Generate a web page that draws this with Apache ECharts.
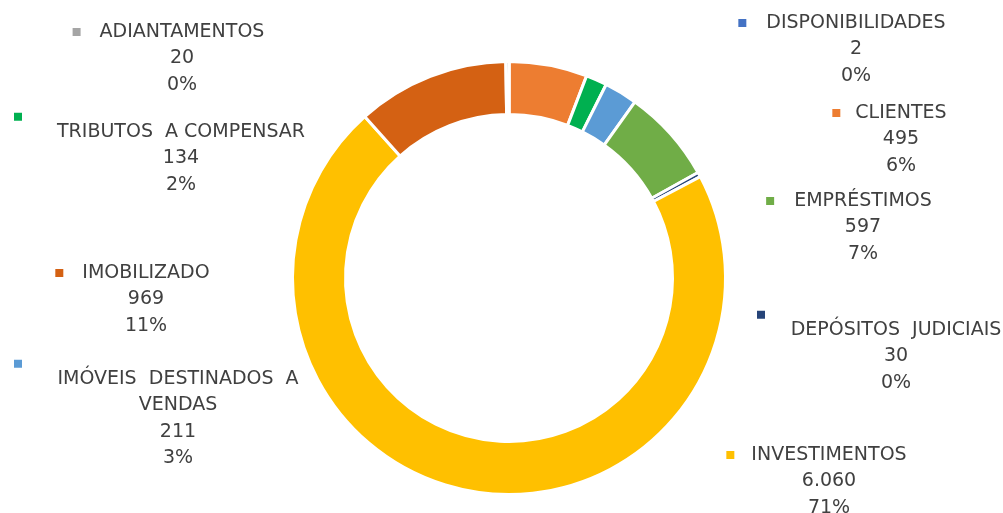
<!DOCTYPE html>
<html><head><meta charset="utf-8">
<script src="https://cdn.jsdelivr.net/npm/echarts@6/dist/echarts.min.js"></script>
<style>html,body{margin:0;padding:0;background:#fff}#c{width:1003px;height:513px}</style>
</head><body><div id="c"></div>
<script>
const categories = ['DISPONIBILIDADES','CLIENTES','TRIBUTOS  A COMPENSAR','IMÓVEIS  DESTINADOS  A VENDAS','EMPRÉSTIMOS','DEPÓSITOS  JUDICIAIS','INVESTIMENTOS','IMOBILIZADO','ADIANTAMENTOS'];
const values = [2, 495, 134, 211, 597, 30, 6060, 969, 20];
const colors = ['#4472C4','#ED7D31','#00B050','#5B9BD5','#70AD47','#264478','#FFC000','#D46113','#A5A5A5'];

// Manual (Excel-style) label placement: text centre x, centre y of first name line, legend-key style
const labelPlacement = [
  {cx: 856, y: 23,  key: 'inline', gap: 20},
  {cx: 901, y: 113, key: 'inline', gap: 15},
  {cx: 181, y: 132, key: 'above', keyX: 14},
  {cx: 178, y: 379, key: 'above', keyX: 14, wrapBefore: 'VENDAS'},
  {cx: 863, y: 201, key: 'inline', gap: 20},
  {cx: 896, y: 330, key: 'above', keyX: 757},
  {cx: 829, y: 455, key: 'inline', gap: 17},
  {cx: 146, y: 273, key: 'inline', gap: 19},
  {cx: 182, y: 32,  key: 'inline', gap: 19}
];

const FONT = "'DejaVu Sans', sans-serif";
const FS = 19, LH = 26.5, KEY = 8, KEYLINE = 4, TXT = '#404040';

function fmtNum(v){ return String(v).replace(/\B(?=(\d{3})+(?!\d))/g, '.'); }

const data = categories.map((name, i) => {
  const p = labelPlacement[i];
  const txt = {fontFamily: FONT, fontSize: FS, lineHeight: LH, color: TXT, fontWeight: 'normal'};
  const rich = {
    n: txt, v: txt,
    m: {width: KEY, height: KEY, backgroundColor: colors[i], lineHeight: p.key === 'inline' ? LH : KEYLINE},
    g: {width: p.gap || 0, height: 1, lineHeight: LH},
    t: {width: KEY + (p.gap || 0), height: 1, lineHeight: LH},
    s: {width: p.key === 'above' ? 2 * (p.cx - p.keyX) - KEY : 0, height: 1, lineHeight: KEYLINE}
  };
  return {name: name, value: values[i], itemStyle: {color: colors[i]}, label: {rich: rich}};
});

const chart = echarts.init(document.getElementById('c'), null, {renderer: 'canvas'});
chart.setOption({
  animation: false,
  backgroundColor: '#fff',
  series: [{
    type: 'pie',
    center: [509, 278],
    radius: [163.5, 216.5],
    startAngle: 90,
    clockwise: true,
    percentPrecision: 0,
    avoidLabelOverlap: false,
    silent: true,
    itemStyle: {borderColor: '#fff', borderWidth: 3},
    labelLine: {show: false},
    emphasis: {disabled: true},
    label: {
      show: true,
      position: 'outside',
      formatter: function (params) {
        const p = labelPlacement[params.dataIndex];
        let name = params.name;
        if (p.wrapBefore) name = name.replace(' ' + p.wrapBefore, '\n' + p.wrapBefore).replace(/ +\n/, '\n');
        const tail = '\n{v|' + fmtNum(params.value) + '}\n{v|' + Math.round(params.percent) + '%}';
        if (p.key === 'inline') return '{m|}{g|}{n|' + name + '}{t|}' + tail;
        return '{m|}{s|}\n{n|' + name + '}' + tail;
      }
    },
    labelLayout: function (params) {
      const p = labelPlacement[params.dataIndex];
      const top = p.key === 'inline' ? p.y - LH / 2 : p.y - LH / 2 - KEYLINE;
      return {x: p.cx, y: top, align: 'center', verticalAlign: 'top'};
    },
    data: data
  }]
});
</script>
</body></html>
